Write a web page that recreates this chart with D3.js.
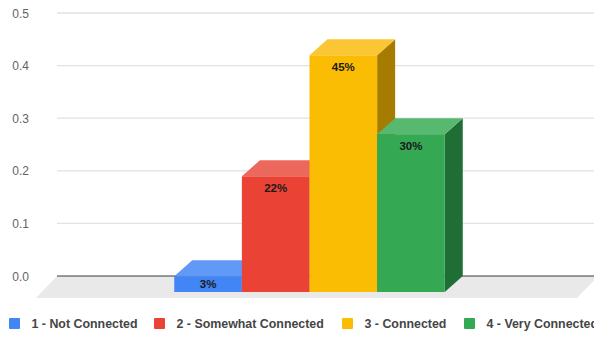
<!DOCTYPE html>
<html>
<head>
<meta charset="utf-8">
<script src="https://cdn.jsdelivr.net/npm/d3@7"></script>
<style>
  html, body { margin: 0; padding: 0; background: #fff; }
  svg { display: block; }
</style>
</head>
<body>
<div id="chart"></div>
<script>
// 3D column chart, one category, four series
const SERIES = ["1 - Not Connected", "2 - Somewhat Connected", "3 - Connected", "4 - Very Connected"];
const VALUES = [0.03, 0.22, 0.45, 0.30];
const TICKS = [0, 0.1, 0.2, 0.3, 0.4, 0.5];
const FRONT = ["#4285F4", "#EA4335", "#FBBC04", "#34A853"];
const TOP = ["#6199F6", "#EC685C", "#FBC633", "#57B96F"];
const SIDE = ["#2E5DAB", "#A32F25", "#A67C00", "#1F6E35"];

const W = 594, H = 337;
const BX0 = 57, BX1 = 598;          // back plane x range
const DX = -18, DY = 16;            // bar depth offset (front vs back)
const FDX = -21, FDY = 22;          // floor depth
const FONT = "Arial, 'Liberation Sans', sans-serif";

const svg = d3.select("#chart").append("svg")
  .attr("width", W).attr("height", H);

const y = d3.scaleLinear().domain([0, 0.5]).range([276, 13]);

// floor
svg.append("path")
  .attr("d", `M${BX0},${y(0)} L${BX1},${y(0)} L${BX1 + FDX},${y(0) + FDY} L${BX0 + FDX},${y(0) + FDY} Z`)
  .attr("fill", "#e9e9e9");

// grid + tick labels
TICKS.forEach(v => {
  if (v > 0) {
    svg.append("line").attr("x1", BX0).attr("x2", BX1)
      .attr("y1", y(v)).attr("y2", y(v))
      .attr("stroke", "#e2e2e2").attr("stroke-width", 1.3);
  }
  svg.append("text").attr("x", 29).attr("y", y(v) + 4.5)
    .attr("text-anchor", "end")
    .attr("style", `font:12px ${FONT};fill:#636363`)
    .text(d3.format(".1f")(v));
});
svg.append("line").attr("x1", BX0).attr("x2", BX1)
  .attr("y1", y(0)).attr("y2", y(0))
  .attr("stroke", "#3a3a3a").attr("stroke-width", 1);

// bars (front plane)
const x0 = d3.scaleBand().domain(["all"]).range([BX0 + DX, BX1 + DX])
  .paddingInner(0).paddingOuter(0.5);
const x1 = d3.scaleBand().domain(SERIES).range([0, x0.bandwidth()]);

SERIES.forEach((s, i) => {
  const v = VALUES[i];
  const xl = x0("all") + x1(s), xr = xl + x1.bandwidth();
  const yt = y(v) + DY, yb = y(0) + DY;
  const g = svg.append("g");
  // side
  g.append("path")
    .attr("d", `M${xr},${yt} L${xr - DX},${yt - DY} L${xr - DX},${yb - DY} L${xr},${yb} Z`)
    .attr("fill", SIDE[i]);
  // top
  g.append("path")
    .attr("d", `M${xl},${yt} L${xl - DX},${yt - DY} L${xr - DX},${yt - DY} L${xr},${yt} Z`)
    .attr("fill", TOP[i]);
  // front
  g.append("rect").attr("x", xl).attr("y", yt)
    .attr("width", xr - xl).attr("height", yb - yt)
    .attr("fill", FRONT[i]);
  const ly = Math.min(yt + 12, (yt + yb) / 2);
  g.append("text").attr("x", (xl + xr) / 2).attr("y", ly + 4)
    .attr("text-anchor", "middle")
    .attr("style", `font:bold 11.5px ${FONT};fill:#1a1a1a`)
    .text(d3.format(".0%")(v));
});

// legend
const LX = [9, 154, 342, 464];
SERIES.forEach((s, i) => {
  svg.append("rect").attr("x", LX[i]).attr("y", 318)
    .attr("width", 11).attr("height", 11).attr("rx", 1)
    .attr("fill", FRONT[i]);
  svg.append("text").attr("x", LX[i] + 22.5).attr("y", 327.5)
    .attr("style", `font:bold 12.4px ${FONT};fill:#454545`)
    .text(s);
});
</script>
</body>
</html>
